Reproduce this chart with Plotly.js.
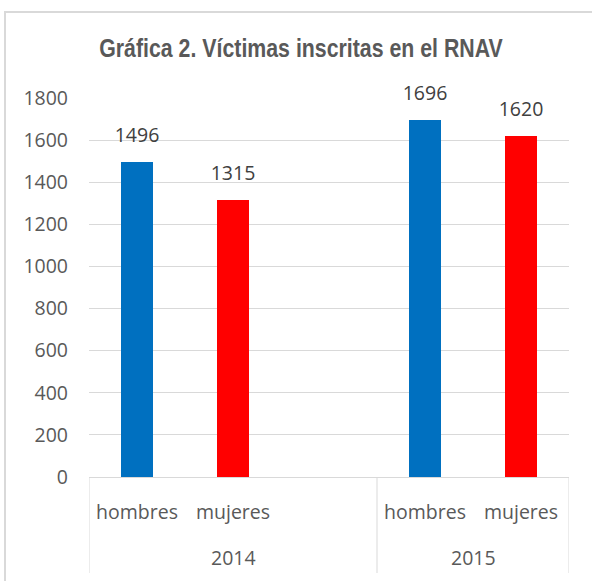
<!DOCTYPE html>
<html>
<head>
<meta charset="utf-8">
<script src="https://cdn.plot.ly/plotly-3.0.1.min.js"></script>
<style>
  html, body { margin: 0; padding: 0; background: #ffffff; }
  #wrap { position: relative; width: 592px; height: 581px; overflow: hidden; }
  #chart { position: absolute; left: 0; top: 0; width: 592px; height: 581px; }
  #frame { position: absolute; left: 4px; top: 11px; width: 700px; height: 700px;
           border-left: 2px solid #d9d9d9; border-top: 2px solid #d9d9d9; pointer-events: none; }
  /* narrow bold title (Arial Narrow look) */
  .gtitle { transform-box: fill-box; transform-origin: center; transform: scaleX(0.82); }
</style>
</head>
<body>
<div id="wrap">
  <div id="chart"></div>
  <div id="frame"></div>
</div>
<script>
// ---- data ----
const years   = ['2014', '2014', '2014', '2015', '2015'];
const groups  = ['hombres', 'mujeres', '', 'hombres', 'mujeres'];
const values  = [1496, 1315, null, 1696, 1620];
const yTicks  = [0, 200, 400, 600, 800, 1000, 1200, 1400, 1600, 1800];
const titleText = 'Gráfica 2. Víctimas inscritas en el RNAV';

// ---- styles ----
const barColors = ['#0070C0', '#FF0000', '#ffffff', '#0070C0', '#FF0000'];
const tickFont = { family: 'Open Sans, sans-serif', size: 19.5, color: '#595959' };
const gridGray = '#d9d9d9';

// category keys (unique per year/group) built from the data
const keys = years.map((y, i) => y + '|' + i);

// year groups: first / last category index for each year
const yearList = [...new Set(years)];
const yearSpans = yearList.map(y => {
  const idx = years.map((v, i) => v === y ? i : -1).filter(i => i >= 0);
  return { year: y, first: Math.min(...idx), last: Math.max(...idx) };
});

const bars = {
  type: 'bar',
  x: keys,
  y: values,
  width: 0.33,
  marker: { color: barColors, line: { width: 0 } },
  hoverinfo: 'skip',
  showlegend: false
};

const labels = {
  type: 'scatter',
  mode: 'markers+text',
  x: keys,
  y: values,
  text: values.map(v => v === null ? '' : String(v)),
  textposition: 'top center',
  textfont: { family: 'Open Sans, sans-serif', size: 19.5, color: '#404040' },
  marker: { size: 22, opacity: 0 },
  hoverinfo: 'skip',
  showlegend: false,
  cliponaxis: false
};

// plot-area geometry helpers (paper fractions below the axis)
const plotH = 581 - 98 - 104;
const yearLabelY = -(557 - 477) / plotH;
const dividerY = -(573 - 477) / plotH;

const dividerBounds = [];
yearSpans.forEach((s, k) => {
  if (k === 0) dividerBounds.push(s.first - 0.5);
  dividerBounds.push(s.last + 0.5);
});

const shapes = dividerBounds.map(b => ({
  type: 'line', xref: 'x', yref: 'paper',
  x0: b, x1: b, y0: 0, y1: dividerY,
  line: { color: gridGray, width: 1 }
}));

const annotations = yearSpans.map(s => ({
  xref: 'x', yref: 'paper',
  x: (s.first + s.last) / 2,
  y: yearLabelY,
  yanchor: 'middle', xanchor: 'center',
  text: s.year,
  showarrow: false,
  font: tickFont
}));

const layout = {
  width: 592,
  height: 581,
  margin: { l: 89, r: 23, t: 98, b: 104 },
  paper_bgcolor: '#ffffff',
  plot_bgcolor: '#ffffff',
  title: {
    text: '<b>' + titleText + '</b>',
    font: { family: 'Liberation Sans, Arial, sans-serif', size: 26, color: '#595959' },
    x: 301 / 592,
    xanchor: 'center',
    xref: 'container',
    y: 1 - 57 / 581,
    yref: 'container',
    yanchor: 'bottom'
  },
  bargap: 0,
  xaxis: {
    type: 'category',
    categoryorder: 'array',
    categoryarray: keys,
    tickvals: keys,
    ticktext: groups,
    range: [-0.5, keys.length - 0.5],
    tickfont: tickFont,
    ticks: '',
    showgrid: false,
    showline: true,
    linecolor: gridGray,
    linewidth: 1,
    ticklabelstandoff: 18,
    fixedrange: true
  },
  yaxis: {
    range: [0, 1800],
    tickvals: yTicks,
    ticktext: yTicks.map(String),
    tickfont: tickFont,
    ticks: '',
    showgrid: true,
    gridcolor: gridGray,
    gridwidth: 1,
    zeroline: false,
    showline: false,
    ticklabelstandoff: 20,
    fixedrange: true
  },
  shapes: shapes,
  annotations: annotations
};

Plotly.newPlot('chart', [bars, labels], layout, { displayModeBar: false, staticPlot: true });
</script>
</body>
</html>
